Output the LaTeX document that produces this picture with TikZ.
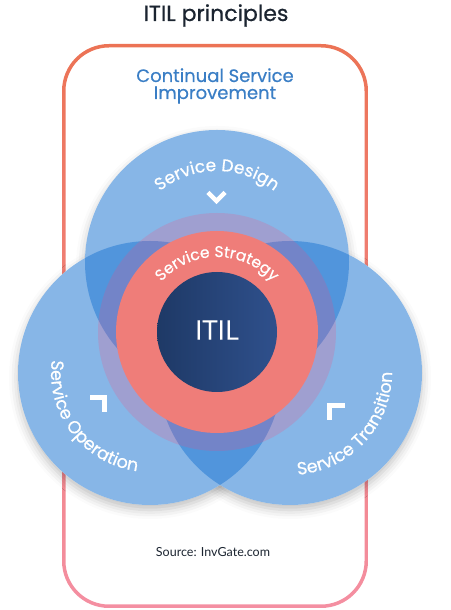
\documentclass[tikz,border=0pt]{standalone}
\usepackage{fontspec}
\usetikzlibrary{decorations.text,shadows.blur}
\newfontfamily\popfont[FakeBold=0.6]{Poppins}
\newfontfamily\latofont{Lato}
\newfontfamily\opfont[FakeBold=0.5]{Open Sans}
\definecolor{circblue}{RGB}{37,123,212}
\definecolor{ringpurple}{RGB}{255,67,120}
\definecolor{ringred}{HTML}{EF7D79}
\definecolor{coreleft}{HTML}{1E3966}
\definecolor{coreright}{HTML}{2F508C}
\definecolor{framered}{HTML}{EC7355}
\definecolor{framepink}{HTML}{F48FA2}
\definecolor{csiblue}{HTML}{3A7EC5}
\definecolor{titletext}{HTML}{1B2430}
\tikzset{
  chev/.style={white,line width=4.5pt,line join=miter,line cap=butt},
  arctext/.style 2 args={decorate,decoration={text along path,text align=center,text color=white,
    text={|\popfont\fontsize{#1}{#1}\selectfont|#2}}},
}
\begin{document}
\begin{tikzpicture}[x=1pt,y=1pt,declare function={R=132;},line join=round]
  \useasboundingbox (0,0) rectangle (450,610);
  \foreach \x/\y/\z in {217/348/SD,150/237/SO,290/237/ST,217/278/SS}{
      \path (\x,\y) coordinate (\z);
  }
  % frame
  \shade[top color=framered,bottom color=framepink,even odd rule]
    [rounded corners=47pt] (62,2) rectangle (368,566)
    [rounded corners=43.5pt] (65.5,5.5) rectangle (364.5,562.5);
  % circles
  \foreach \c in {SD,SO,ST}{
      \path[blur shadow={shadow xshift=0pt,shadow yshift=-5pt,shadow blur radius=9pt,shadow opacity=25}] (\c) circle[radius=R];
  }
  \fill[white] (SD) circle[radius=R] (SO) circle[radius=R] (ST) circle[radius=R];
  \foreach \c in {SD,SO,ST}{
      \fill[circblue,fill opacity=.55] (\c) circle[radius=R];
  }
  \fill[ringpurple,fill opacity=.2] (SS) circle[radius=119];
  \fill[ringred] (SS) circle[radius=101];
  \shade[left color=coreleft,right color=coreright] (SS) circle[radius=60];
  \node[font=\opfont\fontsize{27}{27}\selectfont,text=white] (itil) at (217,280) {ITIL};
  % chevrons
  \draw[chev] (208,417.5)--(216.5,409)--(225,417.5);
  \draw[chev] (90,212.5)--(104.5,212.5)--(104.5,198);
  \draw[chev] (345,204.5)--(329.5,204.5)--(329.5,190);
  % curved labels
  \path[arctext={17}{Service Design}] ([shift={(165:91)}]SD) arc[start angle=165,end angle=15,radius=91];
  \path[arctext={15.5}{Service Strategy}] ([shift={(165:75)}]SS) arc[start angle=165,end angle=15,radius=75];
  \path[arctext={17.5}{Service Operation}] ([shift={(150:99)}]SO) arc[start angle=150,end angle=285,radius=99];
  \path[arctext={17.5}{Service Transition}] ([shift={(250:102)}]ST) arc[start angle=250,end angle=385,radius=102];
  % texts
  \node[font=\popfont\fontsize{22}{22}\selectfont,text=titletext,anchor=base] (title) at (216,589) {ITIL principles};
  \node[font=\popfont\fontsize{18}{18}\selectfont,text=csiblue,anchor=base] (csitop) at (215,528) {Continual Service};
  \node[font=\popfont\fontsize{18}{18}\selectfont,text=csiblue,anchor=base] (csibot) at (215,511) {Improvement};
  \node[font=\latofont\fontsize{12.5}{12.5}\selectfont,text=titletext,anchor=base] (src) at (213,53) {Source: InvGate.com};
\end{tikzpicture}
\end{document}
